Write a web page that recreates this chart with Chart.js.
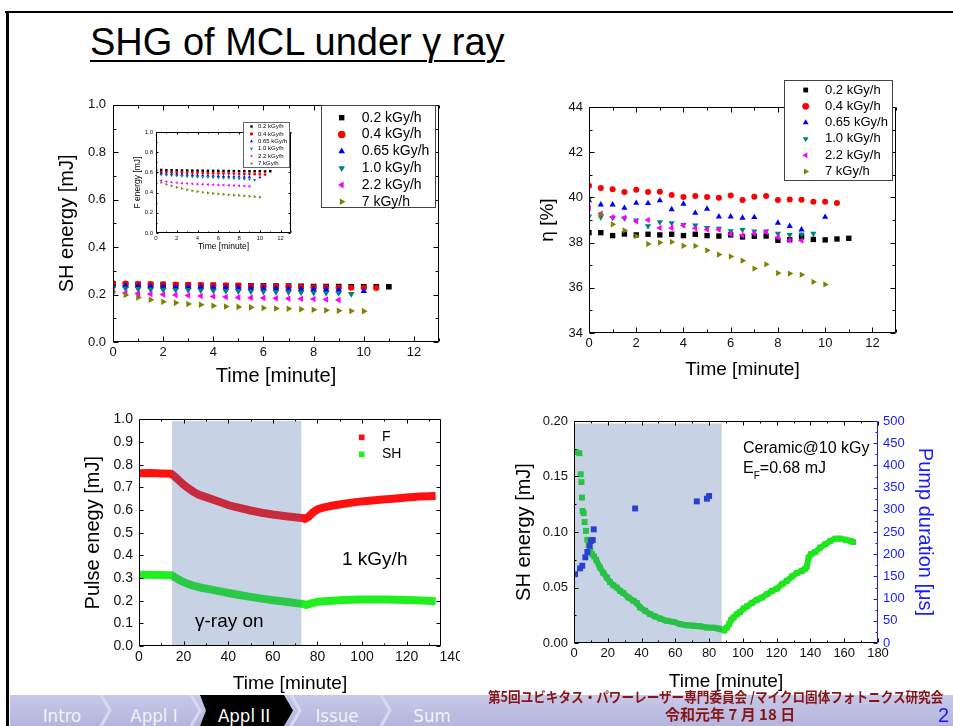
<!DOCTYPE html>
<html><head><meta charset="utf-8">
<script src="https://cdn.jsdelivr.net/npm/chart.js@4/dist/chart.umd.min.js"></script>
<style>
html,body{margin:0;padding:0;background:#fff;}
#slide{position:relative;width:953px;height:726px;overflow:hidden;background:#fff;font-family:"Liberation Sans",Arial,sans-serif;}
.abs{position:absolute;}
canvas{display:block;}
.ann{position:absolute;white-space:nowrap;line-height:1;color:#000;font-family:"Liberation Sans",Arial,sans-serif;}
</style></head><body>
<div id="slide">
  <div class="abs" style="left:5px;top:11px;width:948px;height:2px;background:#000"></div>
  <div class="abs" style="left:6px;top:11px;width:3px;height:715px;background:#000"></div>
  <div class="ann" style="left:90px;top:23px;font-size:38px;text-decoration:underline;text-decoration-thickness:2px;text-underline-offset:5px;">SHG of MCL under γ ray</div>

  <div class="abs" style="left:40px;top:90px"><canvas id="cA" width="410" height="305"></canvas></div>
  <div class="abs" style="left:125px;top:118px"><canvas id="cE" width="170" height="140"></canvas></div>
  <div class="abs" style="left:520px;top:70px"><canvas id="cB" width="420" height="320"></canvas></div>
  <div class="abs" style="left:60px;top:405px"><canvas id="cC" width="400" height="290"></canvas></div>
  <div class="abs" style="left:490px;top:405px"><canvas id="cD" width="463" height="290"></canvas></div>

  <div class="ann" style="left:342px;top:549px;font-size:19px;">1 kGy/h</div>
  <div class="ann" style="left:195px;top:611px;font-size:19px;">γ-ray on</div>
  <div class="ann" style="left:743px;top:440px;font-size:16px;">Ceramic@10 kGy</div>
  <div class="ann" style="left:743px;top:460px;font-size:16px;">E<span style="font-size:10px;position:relative;top:6px;">F</span>=0.68 mJ</div>

  <svg class="abs" style="left:10px;top:695px" width="943" height="31">
    <defs><linearGradient id="fg" x1="0" y1="0" x2="0" y2="1"><stop offset="0" stop-color="#c8c8ea"/><stop offset="1" stop-color="#b5b5dc"/></linearGradient></defs>
    <rect x="0" y="0" width="943" height="31" fill="url(#fg)"/>
    <polyline points="91,0 100,15.5 91,31" stroke="#d8d8f3" stroke-width="3" fill="none"/>
    <polyline points="181,0 190,15.5 181,31" stroke="#d8d8f3" stroke-width="3" fill="none"/>
    <polyline points="281,0 290,15.5 281,31" stroke="#d8d8f3" stroke-width="3" fill="none"/>
    <polyline points="371,0 380,15.5 371,31" stroke="#d8d8f3" stroke-width="3" fill="none"/>
    <polygon points="190,0 274,0 283,15.5 274,31 190,31 196,15.5" fill="#000"/>
    <g font-family="'DejaVu Sans Condensed','DejaVu Sans',sans-serif" font-stretch="condensed" font-size="18.5" text-anchor="middle">
      <text x="52" y="26.5" fill="#f2f2fc">Intro</text>
      <text x="144" y="26.5" fill="#f2f2fc">Appl I</text>
      <text x="234" y="26.5" fill="#ffffff">Appl II</text>
      <text x="327" y="26.5" fill="#f2f2fc">Issue</text>
      <text x="422" y="26.5" fill="#f2f2fc">Sum</text>
    </g>
  </svg>
  <div class="ann" style="left:488px;top:689px;font-size:14px;font-weight:bold;color:#861515;font-family:'Noto Sans CJK JP',sans-serif;transform:scaleX(0.9);transform-origin:left top;">第5回ユビキタス・パワーレーザー専門委員会 /マイクロ固体フォトニクス研究会</div>
  <div class="ann" style="left:665px;top:706px;font-size:15px;font-weight:bold;color:#861515;font-family:'Noto Sans CJK JP',sans-serif;">令和元年 7 月 18 日</div>
  <div class="ann" style="left:938px;top:705px;font-size:20px;color:#1a1aff;">2</div>
</div>

<script>
// ---------------- DATA ----------------
const timeA = [0,0.5,1,1.5,2,2.5,3,3.5,4,4.5,5,5.5,6,6.5,7,7.5,8,8.5,9,9.5,10,10.5,11];
const doseLabels = ['0.2 kGy/h','0.4 kGy/h','0.65 kGy/h','1.0 kGy/h','2.2 kGy/h','7 kGy/h'];

// SH energy [mJ] (top-left main)
const shA02  = [0.245,0.244,0.243,0.242,0.242,0.241,0.240,0.239,0.239,0.238,0.238,0.237,0.237,0.236,0.236,0.235,0.234,0.234,0.234,0.233,0.233,0.233,0.233];
const shA04  = [0.248,0.247,0.245,0.244,0.243,0.242,0.241,0.240,0.239,0.238,0.237,0.236,0.235,0.234,0.234,0.232,0.231,0.231,0.230,0.229,0.229,0.228,null];
const shA065 = [0.238,0.237,0.236,0.235,0.234,0.233,0.232,0.231,0.230,0.229,0.228,0.227,0.226,0.225,0.224,0.223,0.222,0.221,0.220,null,0.215,null,null];
const shA10  = [0.228,0.226,0.224,0.222,0.221,0.220,0.219,0.218,0.216,0.215,0.214,0.213,0.212,0.211,0.210,0.209,0.208,0.207,0.206,0.203,null,null,null];
const shA22  = [0.213,0.207,0.204,0.202,0.200,0.198,0.196,0.194,0.192,0.190,0.188,0.187,0.186,0.184,0.183,0.182,0.181,0.179,0.177,null,null,null,null];
const shA7   = [0.212,0.198,0.188,0.178,0.170,0.165,0.160,0.157,0.153,0.150,0.148,0.146,0.143,0.141,0.140,0.138,0.136,0.134,0.132,0.131,0.130,null,null];

// F energy [mJ] (inset)
const fE02  = [0.625,0.624,0.622,0.621,0.620,0.619,0.619,0.618,0.617,0.617,0.616,0.615,0.615,0.614,0.613,0.613,0.612,0.612,0.611,0.611,0.611,0.610,0.612];
const fE04  = [0.607,0.605,0.603,0.601,0.600,0.598,0.597,0.596,0.594,0.593,0.592,0.591,0.590,0.589,0.588,0.587,0.585,0.584,0.583,0.582,0.580,0.578,null];
const fE065 = [0.595,0.590,0.586,0.583,0.580,0.578,0.576,0.574,0.572,0.570,0.568,0.566,0.564,0.562,0.560,0.559,0.558,0.557,0.556,null,0.550,null,null];
const fE10  = [0.585,0.578,0.574,0.570,0.567,0.564,0.561,0.558,0.556,0.554,0.552,0.550,0.548,0.546,0.544,0.541,0.538,0.535,0.533,0.525,null,null,null];
const fE22  = [0.535,0.520,0.510,0.503,0.497,0.493,0.490,0.487,0.484,0.482,0.480,0.478,0.476,0.474,0.472,0.470,0.468,0.465,0.462,null,null,null,null];
const fE7   = [0.520,0.500,0.482,0.466,0.452,0.440,0.428,0.418,0.410,0.403,0.397,0.392,0.387,0.383,0.379,0.375,0.372,0.368,0.365,0.360,0.355,null,null];

// eta [%] (top-right)
const eta02  = [38.44,38.44,38.31,38.38,38.34,38.37,38.34,38.37,38.31,38.37,38.31,38.29,38.34,38.25,38.28,38.29,38.10,38.13,38.25,38.14,38.12,38.16,38.19];
const eta04  = [40.52,40.42,40.36,40.24,40.34,40.24,40.25,40.11,40.02,40.06,40.02,39.99,40.08,39.88,40.03,40.06,39.88,39.91,39.90,39.81,39.81,39.75,null];
const eta065 = [39.87,39.68,39.68,39.53,39.75,39.74,39.86,39.47,39.71,39.31,39.49,39.15,39.15,39.09,39.12,null,38.87,38.73,38.57,null,39.13,null,null];
const eta10  = [39.16,39.13,39.10,39.08,38.99,38.73,38.91,38.87,38.79,38.76,38.65,38.62,38.51,38.57,38.50,38.50,38.40,38.35,38.37,38.40,null,null,null];
const eta22  = [39.53,39.28,39.13,39.10,38.94,39.00,38.65,38.65,38.76,38.63,38.57,38.57,38.37,38.32,38.40,38.47,38.23,38.10,38.09,null,null,null,null];
const eta7   = [39.97,39.24,38.81,38.54,38.29,37.94,38.00,38.03,37.86,37.85,37.66,37.47,37.39,37.20,36.85,37.04,36.65,36.63,36.58,36.26,36.15,null,null];

// Pulse energy [mJ] at 1 kGy/h (bottom-left)
const timeF  = [0,5,10,14.5,16,18,20,22,24.5,27,30,35,40,45,50,55,60,65,70,73,74.5,76,78,80,83,87,92,97,102,108,114,120,126,133];
const pulseF = [0.762,0.763,0.761,0.760,0.748,0.730,0.712,0.697,0.680,0.667,0.657,0.640,0.622,0.610,0.598,0.588,0.580,0.574,0.568,0.565,0.561,0.570,0.590,0.603,0.612,0.620,0.628,0.635,0.640,0.645,0.650,0.655,0.660,0.662];
const timeSH  = [0,10,14.5,16,18,20,22,25,28,32,36,40,45,50,55,60,65,70,73,75,77,80,85,90,95,100,110,120,127,133];
const pulseSH = [0.314,0.313,0.312,0.304,0.292,0.282,0.274,0.264,0.257,0.250,0.242,0.234,0.225,0.217,0.209,0.202,0.196,0.190,0.186,0.181,0.188,0.195,0.199,0.202,0.204,0.205,0.205,0.203,0.201,0.198];

// Ceramic @10 kGy (bottom-right)
const timeD = [1.2,3.2,4.0,4.4,4.7,5.1,5.7,6.3,7.1,7.9,8.7,9.7,10.7,11.9,13.1,15.4,17.4,19.4,21.3,23.3,25.3,27.3,29.2,32.2,35.2,37.2,39.1,42.1,45.1,48,51,54.9,58.9,62.8,66.8,70.8,74.7,78.7,82.6,85.6,87.5,88.9,90.5,91.9,93.1,94.5,96.4,98.4,100.4,102.4,105.3,108.3,111.3,114.2,117.2,120.2,123.1,126.1,129.1,132,135,137,137.9,138.9,140.3,142.9,145.8,148.8,151.8,154.7,157.7,160.7,163.6,165.2];
const shD   = [0.172,0.171,0.152,0.145,0.131,0.119,0.117,0.109,0.101,0.093,0.088,0.083,0.080,0.078,0.075,0.068,0.063,0.059,0.055,0.052,0.050,0.047,0.045,0.041,0.038,0.036,0.032,0.029,0.026,0.024,0.022,0.020,0.019,0.017,0.016,0.0156,0.015,0.014,0.0138,0.013,0.0123,0.0114,0.0138,0.017,0.021,0.023,0.026,0.028,0.031,0.033,0.036,0.039,0.041,0.044,0.047,0.049,0.053,0.056,0.060,0.063,0.065,0.067,0.069,0.077,0.080,0.082,0.086,0.089,0.092,0.094,0.094,0.093,0.092,0.091];
const pumpT = [0.6,3.6,4.9,6.7,7.9,9.3,10.1,11.1,11.7,36.2,72.7,78.7,80.0];
const pumpV = [155,168,174,193,205,219,230,232,256,303,319,325,331];

// ---------------- STYLE ----------------
const FONT = '"Liberation Sans", Arial, sans-serif';
Chart.defaults.font.family = FONT;
Chart.defaults.animation = false;
const doseStyles = [
  {ps:'rect', rot:0, c:'#000000'},
  {ps:'circle', rot:0, c:'#ff0000'},
  {ps:'triangle', rot:0, c:'#0000ff'},
  {ps:'triangle', rot:180, c:'#008080'},
  {ps:'triangle', rot:-90, c:'#ff00ff'},
  {ps:'triangle', rot:90, c:'#808000'}
];

function pts(xs, ys){ return ys.map((y,i)=> y==null ? null : {x:xs[i], y:y}).filter(Boolean); }

function drawMarker(ctx, style, rotDeg, x, y, r, color){
  ctx.save(); ctx.fillStyle = color; ctx.beginPath();
  if (style === 'circle') ctx.arc(x, y, r, 0, Math.PI*2);
  else if (style === 'rect') { const s = Math.SQRT1_2*r; ctx.rect(x-s, y-s, 2*s, 2*s); }
  else { let rad = rotDeg*Math.PI/180;
    for (let k=0;k<3;k++){ const px=x+Math.sin(rad)*r, py=y-Math.cos(rad)*r; if(k) ctx.lineTo(px,py); else ctx.moveTo(px,py); rad += 2*Math.PI/3; }
    ctx.closePath(); }
  ctx.fill(); ctx.restore();
}
function seg(ctx,x1,y1,x2,y2,c){ ctx.strokeStyle=c; ctx.beginPath(); ctx.moveTo(x1,y1); ctx.lineTo(x2,y2); ctx.stroke(); }

function makeDeco(cfg){
  return { id:'deco', afterDatasetsDraw(chart){
    const ctx = chart.ctx, a = chart.chartArea;
    ctx.save();
    if (cfg.shade){ const s=cfg.shade, sx=chart.scales.x, sy=chart.scales.y;
      const x0=sx.getPixelForValue(s.x0), x1=sx.getPixelForValue(s.x1), y0=sy.getPixelForValue(s.y0), y1=sy.getPixelForValue(s.y1);
      ctx.fillStyle=s.color; ctx.fillRect(x0,y1,x1-x0,y0-y1); }
    const L=Math.round(a.left)+0.5, R=Math.round(a.right)-0.5, T=Math.round(a.top)+0.5, B=Math.round(a.bottom)-0.5;
    const fc = Object.assign({top:'#000',bottom:'#000',left:'#000',right:'#000'}, cfg.frame||{});
    ctx.lineWidth = 1;
    seg(ctx,L,T,R,T,fc.top); seg(ctx,L,B,R,B,fc.bottom); seg(ctx,L,T,L,B,fc.left); seg(ctx,R,T,R,B,fc.right);
    (cfg.ticks||[]).forEach(t=>{
      const s = chart.scales[t.id];
      const n = Math.floor((s.max - s.min)/t.minor + 1e-6);
      for (let i=0;i<=n;i++){
        const v = s.min + i*t.minor;
        const maj = Math.abs(v/t.major - Math.round(v/t.major)) < 1e-6;
        const len = maj ? t.len : Math.round(t.len*0.6);
        const p = Math.round(s.getPixelForValue(v)) + 0.5;
        const c = t.color || '#000';
        t.sides.forEach(side=>{
          if (side==='bottom') seg(ctx,p,B,p,B-len,c);
          else if (side==='top') seg(ctx,p,T,p,T+len,c);
          else if (side==='left') seg(ctx,L,p,L+len,p,c);
          else if (side==='right') seg(ctx,R,p,R-len,p,c);
        });
      }
    });
    (cfg.extraX||[]).forEach(e=>{
      const s = chart.scales.x;
      ctx.fillStyle = e.color||'#111'; ctx.font = e.size+'px '+FONT; ctx.textAlign='center'; ctx.textBaseline='middle';
      ctx.fillText(e.text, s.getPixelForValue(e.value), s.top + e.pad + e.size*0.6);
    });
    ctx.restore();
  }};
}
function makeLegend(cfg){
  return { id:'legendBox', afterDraw(chart){
    const ctx = chart.ctx; ctx.save();
    if (cfg.box){ ctx.fillStyle='#fff'; ctx.fillRect(cfg.x,cfg.y,cfg.w,cfg.h); ctx.strokeStyle=cfg.boxColor||'#444'; ctx.lineWidth=1; ctx.strokeRect(cfg.x+0.5,cfg.y+0.5,cfg.w,cfg.h); }
    chart.data.datasets.forEach((d,i)=>{
      const cy = cfg.y0 + i*cfg.dy;
      drawMarker(ctx, d.legendStyle||d.pointStyle, d.pointRotation||0, cfg.mx, cy, cfg.r, d.legendColor||d.backgroundColor);
      ctx.fillStyle='#000'; ctx.font=cfg.font; ctx.textAlign='left'; ctx.textBaseline='middle';
      ctx.fillText(d.label, cfg.tx, cy);
    });
    ctx.restore();
  }};
}
function axis(o){
  return {
    type:'linear', position:o.pos, min:o.min, max:o.max,
    grid:{display:false, drawTicks:false}, border:{display:false},
    ticks:{stepSize:o.step, color:o.color||'#111', padding:o.pad, font:{size:o.fs}, maxRotation:0, autoSkip:false, includeBounds:false,
      callback:(v)=> o.dec==null ? v : Number(v).toFixed(o.dec)},
    title:{display:!!o.title, text:o.title, color:o.tcolor||'#000', font:{size:o.tfs, lineHeight:1.2}, padding:o.tpad||0},
    afterFit(s){ if (s.isHorizontal()) s.height=o.size; else s.width=o.size; }
  };
}
function doseSets(xs, arrs, r){
  return arrs.map((arr,i)=>({
    label: doseLabels[i], data: pts(xs, arr), pointStyle: doseStyles[i].ps, pointRotation: doseStyles[i].rot,
    backgroundColor: doseStyles[i].c, borderColor: doseStyles[i].c, pointBorderWidth:0,
    pointRadius: doseStyles[i].ps==='circle' ? r.c : (doseStyles[i].ps==='rect' ? r.s : r.t),
    showLine:false, order: arrs.length-1-i
  }));
}
const baseOpts = { responsive:false, devicePixelRatio:1, animation:false, plugins:{legend:{display:false}, tooltip:{enabled:false}} };

// ---- A: SH energy ----
new Chart(document.getElementById('cA'), {
  type:'scatter',
  data:{ datasets: doseSets(timeA, [shA02,shA04,shA065,shA10,shA22,shA7], {c:3, s:4, t:3.8}) },
  options: Object.assign({}, baseOpts, {
    layout:{padding:{top:11, right:11, left:0, bottom:0}},
    scales:{
      x: axis({pos:'bottom', min:0, max:13, step:2, pad:3, fs:13, size:53, title:'Time [minute]', tfs:20, tpad:{top:0,bottom:7}}),
      y: axis({pos:'left', min:0, max:1, step:0.2, dec:1, pad:7, fs:13, size:73, title:'SH energy [mJ]', tfs:20, tpad:{top:15.5,bottom:0}})
    }
  }),
  plugins:[ makeDeco({ticks:[{id:'x',major:2,minor:1,len:5,sides:['bottom','top']},{id:'y',major:0.2,minor:0.1,len:5,sides:['left','right']}]}),
            makeLegend({box:true, x:281, y:15, w:114, h:102, y0:27.7, dy:16.8, mx:301.7, tx:321.7, r:3.8, font:'14px '+FONT}) ]
});

// ---- E: inset F energy ----
new Chart(document.getElementById('cE'), {
  type:'scatter',
  data:{ datasets: doseSets(timeA, [fE02,fE04,fE065,fE10,fE22,fE7], {c:1.4, s:1.8, t:1.8}) },
  options: Object.assign({}, baseOpts, {
    layout:{padding:{top:14, right:3, left:0, bottom:0}},
    scales:{
      x: axis({pos:'bottom', min:0, max:13, step:2, pad:2, fs:6, size:25, title:'Time [minute]', tfs:8.5, tpad:{top:0,bottom:5.9}}),
      y: axis({pos:'left', min:0, max:1, step:0.2, dec:1, pad:3, fs:6, size:31, title:'F energy [mJ]', tfs:8.5, tpad:{top:7.9,bottom:0}})
    }
  }),
  plugins:[ makeDeco({ticks:[{id:'x',major:2,minor:1,len:2,sides:['bottom','top']},{id:'y',major:0.2,minor:0.1,len:2,sides:['left','right']}]}),
            makeLegend({box:true, boxColor:'#666', x:118, y:4, w:46, h:45, y0:8.5, dy:7.4, mx:126.5, tx:133, r:1.7, font:'6px '+FONT}) ]
});

// ---- B: eta ----
new Chart(document.getElementById('cB'), {
  type:'scatter',
  data:{ datasets: doseSets(timeA, [eta02,eta04,eta065,eta10,eta22,eta7], {c:3, s:3.8, t:3.6}) },
  options: Object.assign({}, baseOpts, {
    layout:{padding:{top:37, right:44, left:0, bottom:0}},
    scales:{
      x: axis({pos:'bottom', min:0, max:13, step:2, pad:3, fs:13, size:57, title:'Time [minute]', tfs:19, tpad:{top:0,bottom:8.6}}),
      y: axis({pos:'left', min:34, max:44, step:2, pad:6, fs:13, size:69, title:'η [%]', tfs:19, tpad:{top:16.6,bottom:0}})
    }
  }),
  plugins:[ makeDeco({ticks:[{id:'x',major:2,minor:1,len:5,sides:['bottom','top']},{id:'y',major:2,minor:1,len:5,sides:['left','right']}]}),
            makeLegend({box:true, x:264, y:10, w:108, h:100, y0:20, dy:16.3, mx:285.7, tx:305, r:3.4, font:'13px '+FONT}) ]
});

// ---- C: pulse energy ----
new Chart(document.getElementById('cC'), {
  type:'scatter',
  data:{ datasets: [
    {label:'F', data: pts(timeF, pulseF), showLine:true, borderColor:'#ff1010', backgroundColor:'#ff1010', borderWidth:8, pointRadius:0, borderJoinStyle:'round', legendStyle:'rect'},
    {label:'SH', data: pts(timeSH, pulseSH), showLine:true, borderColor:'#20f020', backgroundColor:'#20f020', borderWidth:8, pointRadius:0, borderJoinStyle:'round', legendStyle:'rect'}
  ]},
  options: Object.assign({}, baseOpts, {
    layout:{padding:{top:12, right:19, left:0, bottom:0}},
    scales:{
      x: axis({pos:'bottom', min:0, max:135.4, step:20, pad:3, fs:14, size:49, title:'Time [minute]', tfs:19, tpad:{top:0,bottom:0}}),
      y: axis({pos:'left', min:0, max:1, step:0.1, dec:1, pad:6, fs:14, size:79, title:'Pulse enegy [mJ]', tfs:20, tpad:{top:21,bottom:0}})
    }
  }),
  plugins:[ makeDeco({shade:{x0:14.8, x1:72.8, y0:0, y1:0.993, color:'rgba(70,110,170,0.3)'},
                      ticks:[{id:'x',major:20,minor:10,len:4,sides:['bottom','top']},{id:'y',major:0.1,minor:0.1,len:4,sides:['left','right']}],
                      extraX:[{value:140, text:'140', size:14, pad:3}]}),
            makeLegend({box:false, y0:32.3, dy:17, mx:301.7, tx:322, r:4, font:'14px '+FONT}) ]
});

// ---- D: ceramic ----
new Chart(document.getElementById('cD'), {
  type:'scatter',
  data:{ datasets: [
    {label:'Pump duration', data: pts(pumpT, pumpV), yAxisID:'y2', pointStyle:'rect', pointRadius:4.2, pointBorderWidth:0, backgroundColor:'#1f2fe0', borderColor:'#1f2fe0', showLine:false},
    {label:'SH energy', data: pts(timeD, shD), yAxisID:'y', pointStyle:'rect', pointRadius:4.2, pointBorderWidth:0, backgroundColor:'#1ee61e', borderColor:'#1ee61e', showLine:true, borderWidth:6,
      segment:{ borderColor: c => c.p0.parsed.x < 13 ? 'rgba(0,0,0,0)' : undefined } }
  ]},
  options: Object.assign({}, baseOpts, {
    layout:{padding:{top:16, right:0, left:0, bottom:0}},
    scales:{
      x: axis({pos:'bottom', min:0, max:180, step:20, pad:3, fs:13, size:52, title:'Time [minute]', tfs:19, tpad:{top:0,bottom:1.6}}),
      y: axis({pos:'left', min:0, max:0.2, step:0.05, dec:2, pad:6, fs:13, size:84, title:'SH energy [mJ]', tfs:20, tpad:{top:22,bottom:0}}),
      y2: axis({pos:'right', min:0, max:500, step:50, pad:5, fs:13, size:75, color:'#1a1aff', title:'Pump duration [μs]', tfs:20, tcolor:'#1a1aff', tpad:{top:16,bottom:0}})
    }
  }),
  plugins:[ makeDeco({shade:{x0:0, x1:87.5, y0:0, y1:0.1977, color:'rgba(70,110,170,0.3)'}, frame:{right:'#1a1aff'},
                      ticks:[{id:'x',major:20,minor:10,len:4,sides:['bottom','top']},{id:'y',major:0.05,minor:0.025,len:4,sides:['left']},{id:'y2',major:50,minor:25,len:4,sides:['right'],color:'#1a1aff'}]}) ]
});
</script>
</body></html>
